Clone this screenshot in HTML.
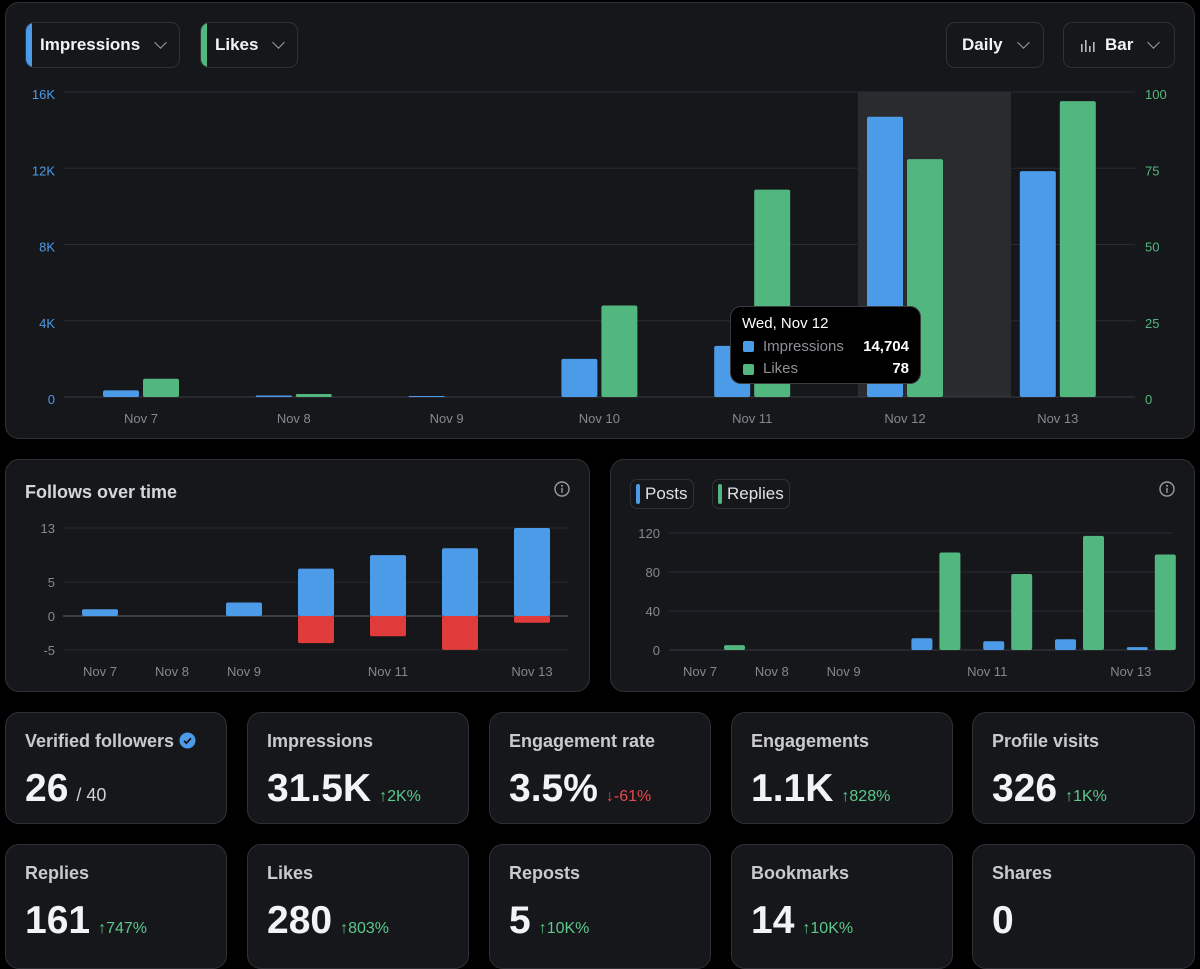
<!DOCTYPE html>
<html><head><meta charset="utf-8">
<style>
*{box-sizing:border-box;margin:0;padding:0}
body{width:1200px;height:955px;background:#000;font-family:"Liberation Sans",sans-serif;overflow:hidden;position:relative;color:#e7e9ea}
.card{position:absolute;background:#16171b;border:1px solid #2f3136;border-radius:14px;overflow:hidden}
.btn{position:absolute;border:1px solid #2f3136;border-radius:9px;background:#16171b;color:#f2f3f5;font-weight:bold;font-size:17px;display:flex;align-items:center;overflow:hidden}
.strip{position:absolute;left:0;top:0;bottom:0;width:6px}
.chev{display:inline-block;width:9px;height:9px;border-right:1.5px solid #9a9ca1;border-bottom:1.5px solid #9a9ca1;transform:rotate(45deg);margin-top:-5px}
.stat .lbl{position:absolute;left:19px;top:18px;font-size:18px;font-weight:bold;color:#c9cacd}
.stat .val{position:absolute;left:19px;top:54px;font-size:39px;font-weight:bold;color:#f2f3f5;white-space:nowrap}
.chg{font-size:16px;font-weight:normal;color:#5cc98a;margin-left:8px}
.neg{color:#e5484d}
.sub{font-size:18px;font-weight:normal;color:#d0d1d4;margin-left:8px}
svg text{font-family:"Liberation Sans",sans-serif}
.info{position:absolute}
</style></head><body>

<div class="card" style="left:5px;top:2px;width:1190px;height:437px">
  <div class="btn" style="left:19px;top:19px;width:155px;height:46px"><div class="strip" style="background:#4c9be8"></div><span style="margin-left:14px">Impressions</span><span class="chev" style="margin-left:16px"></span></div>
  <div class="btn" style="left:194px;top:19px;width:98px;height:46px"><div class="strip" style="background:#52b77f"></div><span style="margin-left:14px">Likes</span><span class="chev" style="margin-left:16px"></span></div>
  <div class="btn" style="left:940px;top:19px;width:98px;height:46px"><span style="margin-left:15px">Daily</span><span class="chev" style="margin-left:16px"></span></div>
  <div class="btn" style="left:1057px;top:19px;width:112px;height:46px">
    <svg width="14" height="14" style="margin-left:17px"><rect x="0" y="6" width="1.6" height="8" fill="#bbb"/><rect x="4" y="2" width="1.6" height="12" fill="#bbb"/><rect x="8" y="8" width="1.6" height="6" fill="#bbb"/><rect x="12" y="4" width="1.6" height="10" fill="#bbb"/></svg>
    <span style="margin-left:10px">Bar</span><span class="chev" style="margin-left:16px"></span></div>
</div>
<svg id="main" width="1200" height="440" style="position:absolute;left:0;top:0"></svg>
<div style="position:absolute;left:730px;top:306px;width:191px;height:78px;background:#000;border:1px solid #3a3b40;border-radius:11px;font-size:15px">
  <div style="position:absolute;left:11px;top:8px;color:#fff">Wed, Nov 12</div>
  <div style="position:absolute;left:12px;top:34px;width:11px;height:11px;background:#4c9be8;border-radius:2px"></div>
  <div style="position:absolute;left:32px;top:31px;color:#8e9095">Impressions</div>
  <div style="position:absolute;right:11px;top:31px;color:#fff;font-weight:bold">14,704</div>
  <div style="position:absolute;left:12px;top:57px;width:11px;height:11px;background:#52b77f;border-radius:2px"></div>
  <div style="position:absolute;left:32px;top:53px;color:#8e9095">Likes</div>
  <div style="position:absolute;right:11px;top:53px;color:#fff;font-weight:bold">78</div>
</div>

<div class="card" style="left:5px;top:459px;width:585px;height:233px">
  <div style="position:absolute;left:19px;top:22px;font-size:18px;font-weight:bold;color:#d5d6d9">Follows over time</div>
  <svg class="info" width="16" height="16" style="left:548px;top:21px"><circle cx="8" cy="8" r="7" fill="none" stroke="#9a9ca1" stroke-width="1.4"/><circle cx="8" cy="4.8" r="1" fill="#9a9ca1"/><rect x="7.3" y="6.8" width="1.4" height="5" fill="#9a9ca1"/></svg>
</div>
<svg id="follows" width="600" height="240" style="position:absolute;left:0;top:455px"></svg>

<div class="card" style="left:610px;top:459px;width:585px;height:233px">
  <div class="btn" style="left:19px;top:19px;width:64px;height:30px;font-size:17px;font-weight:normal;color:#e0e1e3;border-radius:7px"><div style="width:4px;height:20px;background:#4c9be8;border-radius:2px;margin-left:5px"></div><span style="margin-left:5px">Posts</span></div>
  <div class="btn" style="left:101px;top:19px;width:78px;height:30px;font-size:17px;font-weight:normal;color:#e0e1e3;border-radius:7px"><div style="width:4px;height:20px;background:#52b77f;border-radius:2px;margin-left:5px"></div><span style="margin-left:5px">Replies</span></div>
  <svg class="info" width="16" height="16" style="left:548px;top:21px"><circle cx="8" cy="8" r="7" fill="none" stroke="#9a9ca1" stroke-width="1.4"/><circle cx="8" cy="4.8" r="1" fill="#9a9ca1"/><rect x="7.3" y="6.8" width="1.4" height="5" fill="#9a9ca1"/></svg>
</div>
<svg id="posts" width="600" height="240" style="position:absolute;left:600px;top:455px"></svg>

<div class="card stat" style="left:5px;top:712px;width:222px;height:112px"><div class="lbl">Verified followers <svg width="17" height="17" style="vertical-align:-2px"><circle cx="8.5" cy="8.5" r="8" fill="#4c9be8"/><path d="M5 8.8l2.4 2.3 4.6-4.8" stroke="#16171b" stroke-width="1.8" fill="none"/></svg></div><div class="val">26<span class="sub">/ 40</span></div></div>
<div class="card stat" style="left:247px;top:712px;width:222px;height:112px"><div class="lbl">Impressions</div><div class="val">31.5K<span class="chg">↑2K%</span></div></div>
<div class="card stat" style="left:489px;top:712px;width:222px;height:112px"><div class="lbl">Engagement rate</div><div class="val">3.5%<span class="chg neg">↓-61%</span></div></div>
<div class="card stat" style="left:731px;top:712px;width:222px;height:112px"><div class="lbl">Engagements</div><div class="val">1.1K<span class="chg">↑828%</span></div></div>
<div class="card stat" style="left:972px;top:712px;width:223px;height:112px"><div class="lbl">Profile visits</div><div class="val">326<span class="chg">↑1K%</span></div></div>
<div class="card stat" style="left:5px;top:844px;width:222px;height:125px"><div class="lbl">Replies</div><div class="val">161<span class="chg">↑747%</span></div></div>
<div class="card stat" style="left:247px;top:844px;width:222px;height:125px"><div class="lbl">Likes</div><div class="val">280<span class="chg">↑803%</span></div></div>
<div class="card stat" style="left:489px;top:844px;width:222px;height:125px"><div class="lbl">Reposts</div><div class="val">5<span class="chg">↑10K%</span></div></div>
<div class="card stat" style="left:731px;top:844px;width:222px;height:125px"><div class="lbl">Bookmarks</div><div class="val">14<span class="chg">↑10K%</span></div></div>
<div class="card stat" style="left:972px;top:844px;width:223px;height:125px"><div class="lbl">Shares</div><div class="val">0</div></div>

<script>
const days = ["Nov 7","Nov 8","Nov 9","Nov 10","Nov 11","Nov 12","Nov 13"];
const impressions = [350, 80, 50, 2000, 2680, 14704, 11850];
const likes = [6, 1, 0, 30, 68, 78, 97];
const leftTicks = [0, 4000, 8000, 12000, 16000];
const leftTickLabels = ["0","4K","8K","12K","16K"];
const rightTicks = [0, 25, 50, 75, 100];
const highlightIndex = 5;

const follows = [1, 0, 2, 7, 9, 10, 13];
const unfollows = [0, 0, 0, -4, -3, -5, -1];
const followTicks = [-5, 0, 5, 13];
const followLabelDays = ["Nov 7","Nov 8","Nov 9","","Nov 11","","Nov 13"];

const posts = [0, 0, 0, 12, 9, 11, 3];
const replies = [5, 0, 0, 100, 78, 117, 98];
const postTicks = [0, 40, 80, 120];
const postLabelDays = ["Nov 7","Nov 8","Nov 9","","Nov 11","","Nov 13"];

const NS = "http://www.w3.org/2000/svg";
function mk(svg, tag, attrs){const e=document.createElementNS(NS,tag);for(const k in attrs)e.setAttribute(k,attrs[k]);svg.appendChild(e);return e;}
function barRect(svg,x,y0,y1,w,fill){const top=Math.min(y0,y1),h=Math.abs(y1-y0);return mk(svg,"rect",{x:x,y:top,width:w,height:Math.max(h,0),rx:Math.min(2,h/2),fill:fill});}

(function(){
  const svg=document.getElementById("main");
  const x=i=>141+i*152.8, yL=v=>397-v/16000*305, yR=v=>397-v/100*305;
  const band=mk(svg,"rect",{x:x(highlightIndex)-47,y:92,width:153,height:305,fill:"#2a2b2f"});
  
  
  leftTicks.forEach((t,i)=>{
    const g=mk(svg,"line",{x1:64,x2:1135,y1:yL(t),y2:yL(t),stroke:i==0?"#3a3b40":"#2a2b30","stroke-width":1});
    
    
    const l=mk(svg,"text",{x:55,y:yL(t)+7,"text-anchor":"end","font-size":13,fill:"#4c9be8"});l.textContent=leftTickLabels[i];
    
    
  });
  rightTicks.forEach(t=>{
    const l=mk(svg,"text",{x:1145,y:yR(t)+7,"font-size":13,fill:"#52b77f"});l.textContent=t;
    
    
  });
  days.forEach((d,i)=>{
    const b=barRect(svg,x(i)-38,yL(0),yL(impressions[i]),36,"#4c9be8");
    
    
    const g=barRect(svg,x(i)+2,yR(0),yR(likes[i]),36,"#52b77f");
    
    
    const l=mk(svg,"text",{x:x(i),y:423,"text-anchor":"middle","font-size":13,fill:"#86888d"});l.textContent=d;
    
    
  });
})();

(function(){
  const svg=document.getElementById("follows");
  const x=i=>100+i*72, y=v=>161-v*6.77;
  followTicks.forEach(t=>{
    const g=mk(svg,"line",{x1:63,x2:568,y1:y(t),y2:y(t),stroke:t==0?"#4a4c52":"#2a2b30","stroke-width":t==0?1.5:1});
    
    
    const l=mk(svg,"text",{x:55,y:y(t)+5,"text-anchor":"end","font-size":13,fill:"#86888d"});l.textContent=t;
    
    
  });
  days.forEach((d,i)=>{
    if(follows[i]){const b=barRect(svg,x(i)-18,y(0),y(follows[i]),36,"#4c9be8");
      
      }
    if(unfollows[i]){const r=barRect(svg,x(i)-18,y(0),y(unfollows[i]),36,"#e03c3c");
      
      }
    if(followLabelDays[i]){const l=mk(svg,"text",{x:x(i),y:221,"text-anchor":"middle","font-size":13,fill:"#86888d"});l.textContent=followLabelDays[i];
      
      }
  });
})();

(function(){
  const svg=document.getElementById("posts");
  const x=i=>100+i*71.8, y=v=>195-v*0.975;
  postTicks.forEach(t=>{
    const g=mk(svg,"line",{x1:69,x2:573,y1:y(t),y2:y(t),stroke:t==0?"#3a3b40":"#2a2b30","stroke-width":1});
    
    
    const l=mk(svg,"text",{x:60,y:y(t)+5,"text-anchor":"end","font-size":13,fill:"#86888d"});l.textContent=t;
    
    
  });
  days.forEach((d,i)=>{
    if(posts[i]){const b=barRect(svg,x(i)-4,y(0),y(posts[i]),21,"#4c9be8");
      
      }
    if(replies[i]){const g=barRect(svg,x(i)+24,y(0),y(replies[i]),21,"#52b77f");
      
      }
    if(postLabelDays[i]){const l=mk(svg,"text",{x:x(i),y:221,"text-anchor":"middle","font-size":13,fill:"#86888d"});l.textContent=postLabelDays[i];
      
      }
  });
})();
</script>
</body></html>
